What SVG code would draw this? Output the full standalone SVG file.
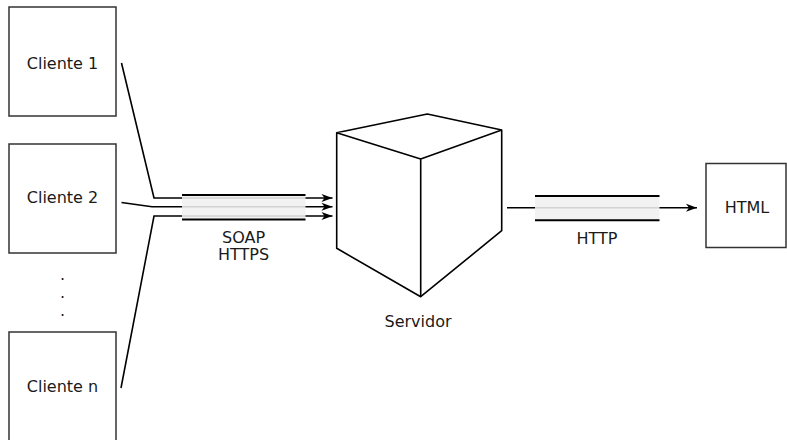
<svg xmlns="http://www.w3.org/2000/svg" width="787" height="440" viewBox="0 0 787 440">
  <defs>
    <marker id="arrow" markerUnits="userSpaceOnUse" markerWidth="14" markerHeight="10" viewBox="-12 -5 13 10" refX="0" refY="0" orient="auto">
      <path d="M0,0 L-11,-4 L-8,0 L-11,4 Z" fill="#000"/>
    </marker>
  </defs>
  <style>
    .box { fill: #fff; stroke: #333; stroke-width: 1.5; }
    .lbl { font-family: "DejaVu Sans", Verdana, sans-serif; font-size: 16px; fill: #1a1a1a; text-anchor: middle; }
    .wire { fill: none; stroke: #000; stroke-width: 1.6; }
    .tube { fill: #f0f0f0; fill-opacity: 0.88; stroke: none; }
    .tube-edge { stroke: #000; stroke-width: 2; }
    .cube { fill: #fff; stroke: #000; stroke-width: 1.6; stroke-linejoin: round; }
  </style>

  <rect width="787" height="440" fill="#fff"/>

  <!-- client nodes -->
  <g id="cliente1">
    <rect class="box" x="9" y="7" width="107" height="109"/>
    <text class="lbl" x="62.5" y="69">Cliente 1</text>
  </g>
  <g id="cliente2">
    <rect class="box" x="9" y="144" width="107" height="109"/>
    <text class="lbl" x="62.5" y="203">Cliente 2</text>
  </g>
  <g id="ellipsis">
    <text class="lbl" x="62.5" y="280">.</text>
    <text class="lbl" x="62.5" y="298">.</text>
    <text class="lbl" x="62.5" y="316">.</text>
  </g>
  <g id="clienten">
    <rect class="box" x="9" y="332" width="107" height="120"/>
    <text class="lbl" x="62.5" y="392">Cliente n</text>
  </g>

  <!-- server node -->
  <g id="servidor">
    <path class="cube" d="M336.7,132.7 L427.3,114 L501.7,130 L501.7,230.7 L420.7,296.7 L336.7,248.3 Z"/>
    <path class="cube" fill="none" d="M336.7,132.7 L420.7,159 L501.7,130 M420.7,159 L420.7,296.7"/>
    <text class="lbl" x="418" y="327">Servidor</text>
  </g>

  <!-- output node -->
  <g id="html">
    <rect class="box" x="706" y="163.5" width="80" height="84"/>
    <text class="lbl" x="747" y="212.5">HTML</text>
  </g>

  <!-- connectors -->
  <g id="connectors">
    <path class="wire" d="M121.5,63 L154,198 L332.5,198" marker-end="url(#arrow)"/>
    <path class="wire" d="M121.5,202.5 L152,206.7 L332.5,206.7" marker-end="url(#arrow)"/>
    <path class="wire" d="M121,388 L154,216 L332.5,216" marker-end="url(#arrow)"/>
    <rect class="tube" x="182" y="195" width="123.5" height="24.5"/>
    <line class="tube-edge" x1="182" y1="195" x2="305.5" y2="195"/>
    <line class="tube-edge" x1="182" y1="219.5" x2="305.5" y2="219.5"/>
    <text class="lbl" x="243.5" y="242.5">SOAP</text>
    <text class="lbl" x="243.5" y="260">HTTPS</text>

    <path class="wire" d="M507,207.7 L697,207.7" marker-end="url(#arrow)"/>
    <rect class="tube" x="535" y="196" width="124.5" height="24.3"/>
    <line class="tube-edge" x1="535" y1="196" x2="659.5" y2="196"/>
    <line class="tube-edge" x1="535" y1="220.3" x2="659.5" y2="220.3"/>
    <text class="lbl" x="597" y="244">HTTP</text>
  </g>
</svg>
